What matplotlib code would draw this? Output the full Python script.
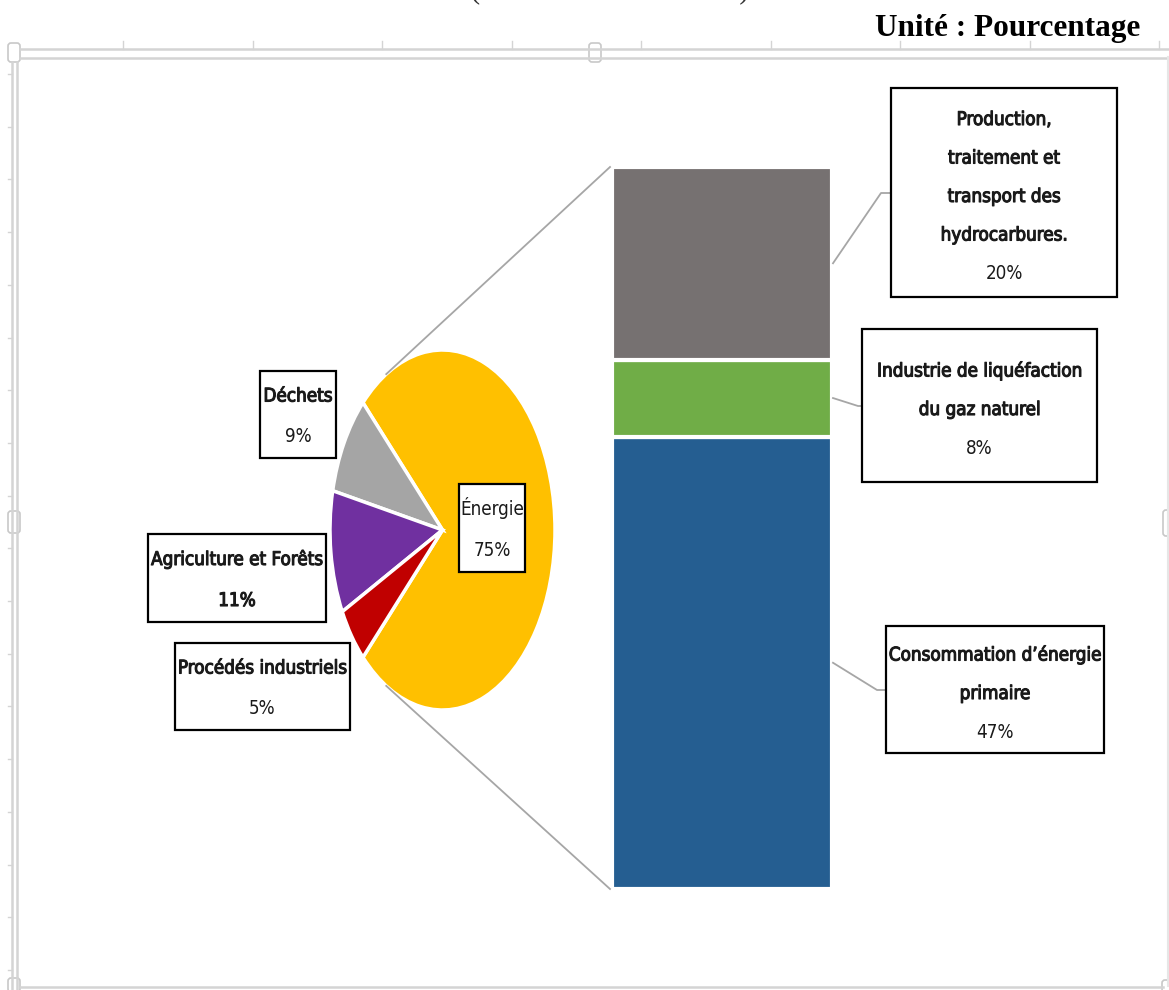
import numpy as np
import matplotlib.pyplot as plt
import matplotlib.patheffects as pe
from matplotlib.patches import Rectangle, FancyBboxPatch

W, H = 1169, 990

# Emissions par secteur (%)
pie_labels = ['Énergie', 'Déchets', 'Agriculture et Forêts', 'Procédés industriels']
pie_values = [75, 9, 11, 5]
pie_colors = ['#FFC000', '#A5A5A5', '#7030A0', '#C00000']

# Détail du secteur Énergie (%), empilé du bas vers le haut
bar_labels = ['Consommation d\u2019énergie\nprimaire',
              'Industrie de liquéfaction\ndu gaz naturel',
              'Production,\ntraitement et\ntransport des\nhydrocarbures.']
bar_values = [47, 8, 20]
bar_colors = ['#255E91', '#70AD47', '#767171']

unit_text = 'Unité : Pourcentage'

plt.rcParams['font.family'] = ['DejaVu Sans']
plt.rcParams['font.stretch'] = 'condensed'


def px_box(x0, y0, x1, y1):
    # pixel box (top-left origin) -> figure fraction rect
    return [x0 / W, 1 - y1 / H, (x1 - x0) / W, (y1 - y0) / H]


fig = plt.figure(figsize=(W / 100, H / 100), dpi=100)

# pie, stretched to an ellipse like the original sheet
pie_rect = (330, 350, 555, 710)
pax = fig.add_axes(px_box(*pie_rect))
pax.pie(pie_values, colors=pie_colors, startangle=-135, counterclock=True,
        wedgeprops=dict(edgecolor='white', linewidth=2.5))
pax.set_aspect('auto')
pax.set_xlim(-1, 1)
pax.set_ylim(-1, 1)
pax.axis('off')

# stacked bar breaking down the energy slice
bar_rect = (612, 167, 832, 889)
bax = fig.add_axes(px_box(*bar_rect))
bottoms = np.concatenate([[0], np.cumsum(bar_values)[:-1]])
bax.bar(0.5, bar_values, width=1, bottom=bottoms, color=bar_colors,
        edgecolor='white', linewidth=3)
bax.set_xlim(0, 1)
bax.set_ylim(0, pie_values[0])
bax.axis('off')

# overlay in pixel coordinates for frame, connectors and label boxes
ov = fig.add_axes([0, 0, 1, 1])
ov.set_xlim(0, W)
ov.set_ylim(H, 0)
ov.axis('off')
ov.set_zorder(5)

# chart frame (light double border with ruler ticks and handles)
fc = '#D4D4D4'
ov.plot([20, W], [49, 49], color=fc, lw=1.8)
ov.plot([20, W], [57.5, 57.5], color=fc, lw=1.8)
ov.plot([12, 12], [62, H], color=fc, lw=1.8)
ov.plot([16.5, 16.5], [62, H], color=fc, lw=1.8)
ov.plot([20, W - 6], [986.5, 986.5], color=fc, lw=1.8)
ov.plot([W - 1.5, W - 1.5], [57, 986], color='#E6E6E6', lw=1.5)
for tx in np.arange(123, W, 129.5):
    ov.plot([tx, tx], [41, 49], color=fc, lw=1)
for ty in np.arange(970, 60, -52.7):
    ov.plot([8, 12], [ty, ty], color=fc, lw=1)
for hx, hy, hw, hh in [(8, 43, 12, 19), (589, 43, 12, 19), (8, 511, 12, 22),
                       (8, 978, 12, 14), (1163, 510, 8, 26), (1162, 980, 8, 12)]:
    ov.add_patch(FancyBboxPatch((hx, hy), hw, hh, boxstyle='round,pad=0,rounding_size=3',
                                fc='white', ec='#C8C8C8', lw=1.2))

# heading
serif = ['Liberation Serif', 'DejaVu Serif']
ov.text(1140, 36, unit_text, ha='right', va='baseline', fontsize=22.5,
        fontweight='bold', family=serif, fontstretch='normal')
ov.text(610, -3, '(' + ' ' * 34 + ')', ha='center', va='baseline', fontsize=22,
        color='#333333', family=serif, fontstretch='normal')

# connectors from the pie edge to the bar corners
cx = (pie_rect[0] + pie_rect[2]) / 2
cy = (pie_rect[1] + pie_rect[3]) / 2
rx = (pie_rect[2] - pie_rect[0]) / 2
ry = (pie_rect[3] - pie_rect[1]) / 2
for ang, by in [(120, bar_rect[1]), (-120, bar_rect[3])]:
    a = np.radians(ang)
    ov.plot([cx + rx * np.cos(a), bar_rect[0] - 2], [cy - ry * np.sin(a), by],
            color='#A6A6A6', lw=1.3, zorder=1)

# heavier strokes for the names, without widening the condensed glyphs
heavy = [pe.withStroke(linewidth=0.8, foreground='#1a1a1a')]


def label_box(x0, y0, x1, y1, lines, weights, step, dy=0):
    ov.add_patch(Rectangle((x0, y0), x1 - x0, y1 - y0, fc='white', ec='black',
                           lw=1.6, zorder=3))
    n = len(lines)
    mid = (y0 + y1) / 2 + dy
    for i, (t, w) in enumerate(zip(lines, weights)):
        y = mid + (i - (n - 1) / 2) * step
        ov.text((x0 + x1) / 2, y + 7.5, t, ha='center', va='baseline',
                fontsize=13.5, color='#1a1a1a', zorder=4,
                path_effects=heavy if w == 'bold' else None)


# pie labels
pie_boxes = {
    'Énergie': ((459, 484, 525, 572), ('normal', 'normal')),
    'Déchets': ((260, 371, 336, 458), ('bold', 'normal')),
    'Agriculture et Forêts': ((148, 534, 326, 622), ('bold', 'bold')),
    'Procédés industriels': ((175, 643, 350, 730), ('bold', 'normal')),
}
for name, val in zip(pie_labels, pie_values):
    box, wts = pie_boxes[name]
    label_box(*box, [name, f'{val}%'], wts, step=41)

# bar labels with leader lines from each segment's right edge
bar_boxes = [
    ((886, 626, 1104, 753), (877, 690)),
    ((862, 329, 1097, 482), (858, 406)),
    ((891, 88, 1117, 297), (881, 193)),
]
total = pie_values[0]
for lab, val, bot, (box, elbow) in zip(bar_labels, bar_values, bottoms, bar_boxes):
    y_mid = bar_rect[3] - (bot + val / 2) / total * (bar_rect[3] - bar_rect[1])
    ov.plot([bar_rect[2] + 1, elbow[0], box[0]], [y_mid, elbow[1], elbow[1]],
            color='#A6A6A6', lw=1.3, zorder=2)
    lines = lab.split('\n') + [f'{val}%']
    wts = ['bold'] * (len(lines) - 1) + ['normal']
    label_box(*box, lines, wts, step=38.5, dy=2)

fig.savefig('out.png', dpi=100)
